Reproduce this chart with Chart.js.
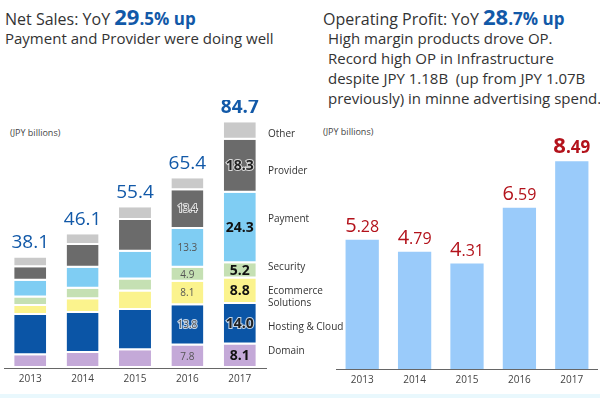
<!DOCTYPE html>
<html>
<head>
<meta charset="utf-8">
<script src="https://cdn.jsdelivr.net/npm/chart.js@4"></script>
<style>
  body { margin: 0; background: #fff; font-family: 'Open Sans', sans-serif; color: #333; }
  #page { position: relative; width: 600px; height: 398px; overflow: hidden; }
  .abs { position: absolute; white-space: nowrap; }
  .blue { color: #1259a8; font-weight: bold; }
  .unit { font-size: 9px; color: #444; }
  .seg { font-size: 10px; color: #333; line-height: 12px; }
  canvas { position: absolute; }
</style>
</head>
<body>
<div id="page">
  <div class="abs" style="left:5px; top:3px; font-size:16px; line-height:26px;">Net Sales: YoY <span class="blue" style="font-size:22px;">29</span><span class="blue" style="font-size:17px;">.5% up</span></div>
  <div class="abs" style="left:5px; top:28px; font-size:15px; line-height:20px;">Payment and Provider were doing well</div>

  <div class="abs" style="left:323px; top:3px; font-size:16px; line-height:26px;">Operating Profit: YoY <span class="blue" style="font-size:22px;">28</span><span class="blue" style="font-size:17px;">.7% up</span></div>
  <div class="abs" style="left:328px; top:28px; font-size:15px; line-height:20px;">High margin products drove OP.<br>Record high OP in Infrastructure<br>despite JPY 1.18B&nbsp; (up from JPY 1.07B<br>previously) in minne advertising spend.</div>

  <div class="abs unit" style="left:10px; top:126px;">(JPY billions)</div>
  <div class="abs unit" style="left:323px; top:125px;">(JPY billions)</div>

  <canvas id="salesChart" width="270" height="290" style="left:0; top:100px;"></canvas>
  <canvas id="opChart" width="262" height="291" style="left:336px; top:100px;"></canvas>

  <div class="abs seg" style="left:268px; top:127px;">Other</div>
  <div class="abs seg" style="left:268px; top:164px;">Provider</div>
  <div class="abs seg" style="left:268px; top:212px;">Payment</div>
  <div class="abs seg" style="left:268px; top:260px;">Security</div>
  <div class="abs seg" style="left:268px; top:284px;">Ecommerce<br>Solutions</div>
  <div class="abs seg" style="left:268px; top:320px;">Hosting &amp; Cloud</div>
  <div class="abs seg" style="left:268px; top:344px;">Domain</div>

  <div class="abs" style="left:0; top:394px; width:600px; height:4px; background:#e9f8fd;"></div>
</div>
<script>
// Data (JPY billions)
const years = ['2013', '2014', '2015', '2016', '2017'];
const domain    = [4.4, 5.2, 6.1, 7.8, 8.1];
const hosting   = [13.9, 13.8, 13.9, 13.8, 14.0];
const ecommerce = [3.1, 4.7, 6.4, 8.1, 8.8];
const security  = [2.9, 3.6, 4.1, 4.9, 5.2];
const payment   = [5.8, 7.3, 9.6, 13.3, 24.3];
const provider  = [4.6, 7.8, 10.9, 13.4, 18.3];
const other     = [3.4, 3.7, 4.4, 4.1, 6.0];
const totals    = [38.1, 46.1, 55.4, 65.4, 84.7];
const opProfit  = [5.28, 4.79, 4.31, 6.59, 8.49];

const font = "'Open Sans', sans-serif";

// segments: [label, data, colour, dark background?]
const segments = [
    ['Domain', domain, '#c4a9d8', false],
    ['Hosting & Cloud', hosting, '#0b55a6', true],
    ['Ecommerce Solutions', ecommerce, '#fbf38d', false],
    ['Security', security, '#c5e0b3', false],
    ['Payment', payment, '#7fcdf3', false],
    ['Provider', provider, '#6b6b6b', true],
    ['Other', other, '#c9c9c9', false]
];

// Segment values for 2016/2017 and totals above the stacks
const salesLabels = {
    id: 'salesLabels',
    afterDatasetsDraw(chart) {
        const ctx = chart.ctx;
        ctx.save();
        ctx.textAlign = 'center';
        chart.data.datasets.forEach((ds, di) => {
            if (ds.label === 'Other') return;
            const meta = chart.getDatasetMeta(di);
            [3, 4].forEach(i => {
                const bar = meta.data[i];
                const cy = (bar.y + bar.base) / 2;
                const txt = ds.data[i].toFixed(1);
                ctx.textBaseline = 'middle';
                if (i === 4) {
                    ctx.font = 'bold 14px ' + font;
                } else {
                    ctx.font = '10px ' + font;
                }
                if (ds.dark) {
                    ctx.lineWidth = 2;
                    ctx.strokeStyle = 'rgba(255,255,255,0.75)';
                    ctx.strokeText(txt, bar.x, cy);
                    ctx.fillStyle = i === 4 ? '#222' : '#555';
                } else {
                    ctx.fillStyle = i === 4 ? '#111' : '#555';
                }
                ctx.fillText(txt, bar.x, cy);
            });
        });
        const topMeta = chart.getDatasetMeta(chart.data.datasets.length - 1);
        topMeta.data.forEach((bar, i) => {
            ctx.textBaseline = 'alphabetic';
            ctx.fillStyle = '#1259a8';
            ctx.font = (i === 4 ? 'bold ' : '') + '19px ' + font;
            ctx.fillText(totals[i].toFixed(1), bar.x, bar.y - 9);
        });
        ctx.restore();
    }
};

new Chart(document.getElementById('salesChart'), {
    type: 'bar',
    data: {
        labels: years,
        datasets: segments.map(s => ({
            label: s[0],
            data: s[1],
            backgroundColor: s[2],
            dark: s[3],
            borderColor: '#fff',
            borderWidth: { top: 0, left: 0, right: 0, bottom: 2 },
            borderSkipped: false,
            barPercentage: 0.61,
            categoryPercentage: 1
        }))
    },
    plugins: [salesLabels],
    options: {
        responsive: false,
        animation: false,
        layout: { padding: { left: 4, right: 4, top: 0, bottom: 0 } },
        plugins: { legend: { display: false }, tooltip: { enabled: false } },
        scales: {
            x: {
                stacked: true,
                grid: { display: false, drawTicks: false },
                border: { color: '#666', width: 1 },
                ticks: { color: '#444', font: { family: font, size: 10 }, padding: 5 }
            },
            y: { stacked: true, display: false, min: 0, max: 92.4 }
        }
    }
});

// Red value labels, integer part larger than decimals
const opLabels = {
    id: 'opLabels',
    afterDatasetsDraw(chart) {
        const ctx = chart.ctx;
        const meta = chart.getDatasetMeta(0);
        ctx.save();
        ctx.fillStyle = '#b3121b';
        ctx.textBaseline = 'alphabetic';
        ctx.textAlign = 'left';
        meta.data.forEach((bar, i) => {
            const parts = opProfit[i].toFixed(2).split('.');
            const last = i === opProfit.length - 1;
            const bigFont = (last ? 'bold 22px ' : '20px ') + font;
            const smallFont = (last ? 'bold 17px ' : '16px ') + font;
            ctx.font = bigFont;
            const w1 = ctx.measureText(parts[0]).width;
            ctx.font = smallFont;
            const w2 = ctx.measureText('.' + parts[1]).width;
            const x0 = bar.x - (w1 + w2) / 2;
            const y0 = bar.y - 8;
            ctx.font = bigFont;
            ctx.fillText(parts[0], x0, y0);
            ctx.font = smallFont;
            ctx.fillText('.' + parts[1], x0 + w1, y0);
        });
        ctx.restore();
    }
};

new Chart(document.getElementById('opChart'), {
    type: 'bar',
    data: {
        labels: years,
        datasets: [{
            label: 'Operating Profit',
            data: opProfit,
            backgroundColor: '#9acbfa',
            barPercentage: 0.635,
            categoryPercentage: 1
        }]
    },
    plugins: [opLabels],
    options: {
        responsive: false,
        animation: false,
        layout: { padding: { left: 0, right: 0, top: 0, bottom: 0 } },
        plugins: { legend: { display: false }, tooltip: { enabled: false } },
        scales: {
            x: {
                grid: { display: false, drawTicks: false },
                border: { color: '#666', width: 1 },
                ticks: { color: '#444', font: { family: font, size: 10 }, padding: 5 }
            },
            y: { display: false, min: 0, max: 10.99 }
        }
    }
});
</script>
</body>
</html>
